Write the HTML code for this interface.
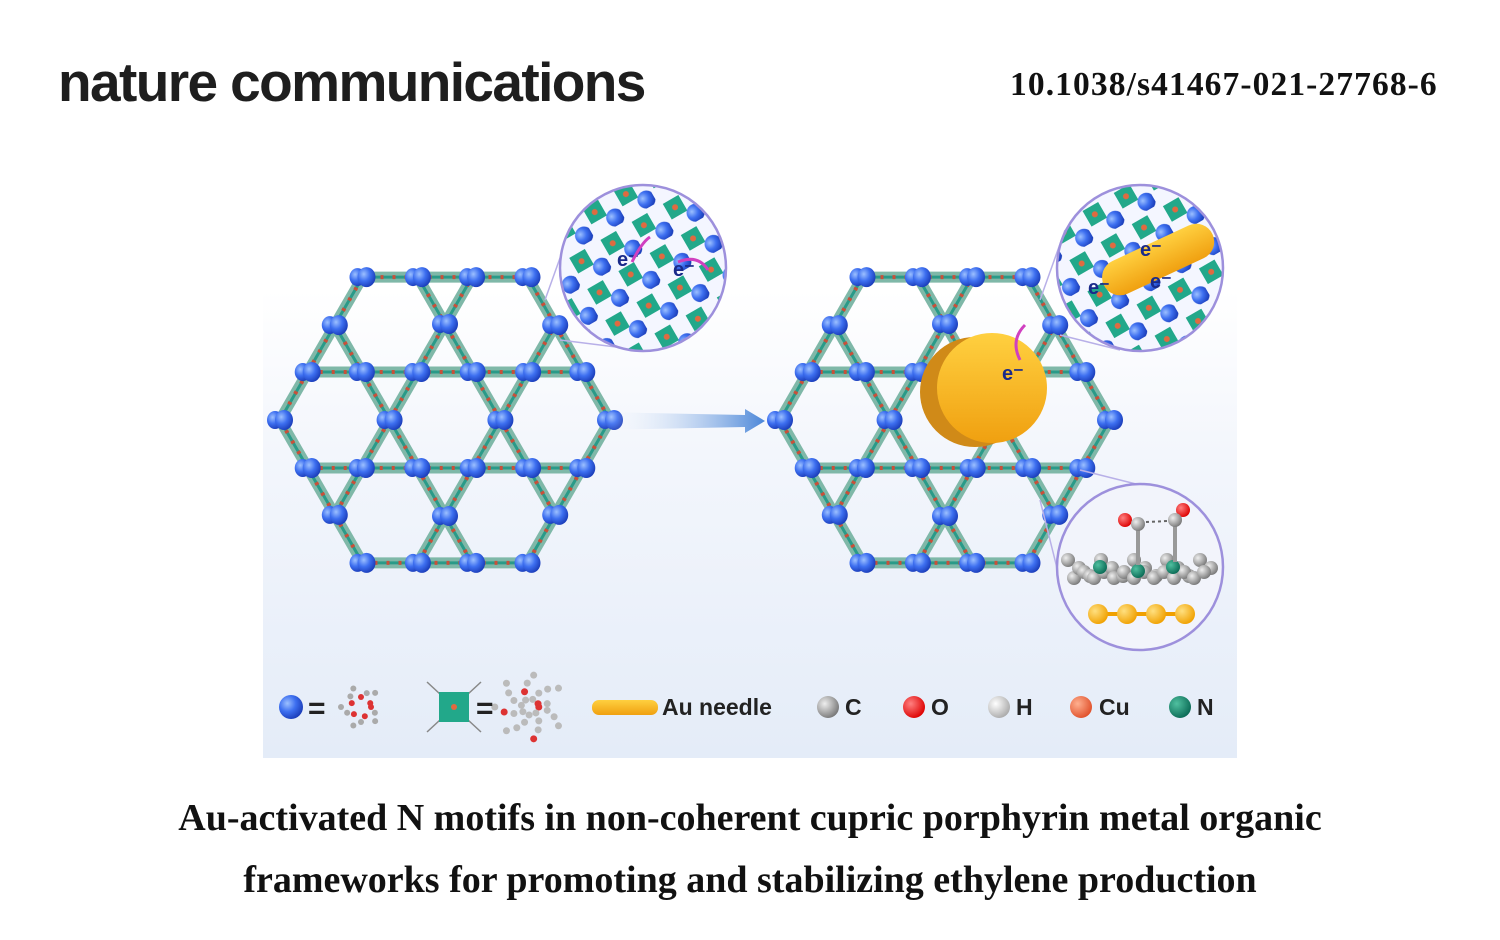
<!DOCTYPE html>
<html><head><meta charset="utf-8">
<style>
html,body{margin:0;padding:0;background:#fff;}
body{width:1500px;height:940px;position:relative;overflow:hidden;font-family:"Liberation Sans",sans-serif;}
.nc{position:absolute;left:58px;top:50px;font-size:55px;font-weight:bold;letter-spacing:-1.6px;color:#1e1e1e;}
.doi{position:absolute;left:1010px;top:66px;font-family:"Liberation Serif",serif;font-weight:bold;font-size:33.5px;letter-spacing:1.1px;color:#111;}
.cap{position:absolute;left:0;width:1500px;text-align:center;font-family:"Liberation Serif",serif;font-weight:bold;font-size:38px;color:#111;}
svg{position:absolute;left:0;top:0;}
</style></head><body>
<div class="nc">nature communications</div>
<div class="doi">10.1038/s41467-021-27768-6</div>
<svg id="s" width="1500" height="940" viewBox="0 0 1500 940">
<defs>
<linearGradient id="bg" x1="0" y1="0" x2="0" y2="1">
<stop offset="0" stop-color="#ffffff"/><stop offset="0.35" stop-color="#f3f6fc"/><stop offset="1" stop-color="#e4ecf8"/></linearGradient>
<radialGradient id="ball" cx="0.35" cy="0.35" r="0.7"><stop offset="0" stop-color="#9cc0ff"/><stop offset="0.5" stop-color="#3d6ff0"/><stop offset="1" stop-color="#1a3cb8"/></radialGradient>
<radialGradient id="gb" cx="0.35" cy="0.35" r="0.7"><stop offset="0" stop-color="#eee"/><stop offset="1" stop-color="#777"/></radialGradient>
<radialGradient id="rb" cx="0.35" cy="0.35" r="0.7"><stop offset="0" stop-color="#ff8080"/><stop offset="1" stop-color="#d00"/></radialGradient>
<radialGradient id="wb" cx="0.35" cy="0.35" r="0.7"><stop offset="0" stop-color="#fff"/><stop offset="1" stop-color="#aaa"/></radialGradient>
<radialGradient id="cb" cx="0.35" cy="0.35" r="0.7"><stop offset="0" stop-color="#ffb090"/><stop offset="1" stop-color="#e0502a"/></radialGradient>
<radialGradient id="nb" cx="0.35" cy="0.35" r="0.7"><stop offset="0" stop-color="#50c0a0"/><stop offset="1" stop-color="#0a6a55"/></radialGradient>
<radialGradient id="yb" cx="0.35" cy="0.35" r="0.7"><stop offset="0" stop-color="#ffe080"/><stop offset="1" stop-color="#f0a000"/></radialGradient>
<linearGradient id="arr" x1="0" x2="1"><stop offset="0" stop-color="#ffffff" stop-opacity="0"/><stop offset="1" stop-color="#4a86d8"/></linearGradient>
<linearGradient id="au" x1="0" x2="0" y1="0" y2="1"><stop offset="0" stop-color="#ffd040"/><stop offset="1" stop-color="#f0a010"/></linearGradient>
<pattern id="pt" width="36" height="36" patternUnits="userSpaceOnUse" patternTransform="rotate(-30)">
<rect width="36" height="36" fill="#f4f6ff"/><rect x="4" y="4" width="18" height="18" fill="#22a88a"/><circle cx="13" cy="13" r="3" fill="#e06a40"/><circle cx="28" cy="28" r="9" fill="url(#ball)"/></pattern>
</defs>
<rect x="263" y="290" width="974" height="468" fill="url(#bg)"/>
<g id="fw"></g>
<polygon points="600,412 745,415 745,409 765,421 745,433 745,427 600,430" fill="url(#arr)"/>
<g stroke="#b8b0e8" stroke-width="1.5" fill="none">
<line x1="545" y1="300" x2="570" y2="230"/><line x1="560" y1="340" x2="640" y2="350"/>
<line x1="1040" y1="300" x2="1065" y2="230"/><line x1="1060" y1="335" x2="1120" y2="350"/>
<line x1="1080" y1="470" x2="1140" y2="485"/><line x1="1040" y1="500" x2="1065" y2="600"/>
</g>
<circle cx="643" cy="268" r="83" fill="url(#pt)" stroke="#9d90dc" stroke-width="2.5"/>
<circle cx="1140" cy="268" r="83" fill="url(#pt)" stroke="#9d90dc" stroke-width="2.5"/>
<rect x="1100" y="250" width="120" height="36" rx="18" fill="url(#au)" transform="rotate(-25 1140 268)"/>
<g font-weight="bold" font-size="20" fill="#1a2a8a">
<text x="617" y="266">e⁻</text><text x="673" y="276">e⁻</text>
<text x="1140" y="256">e⁻</text><text x="1088" y="294">e⁻</text><text x="1150" y="288">e⁻</text></g>
<path d="M632 262 q10 -20 18 -25" stroke="#d040c0" stroke-width="3" fill="none"/>
<path d="M678 262 q20 -8 30 8" stroke="#d040c0" stroke-width="3" fill="none"/>
<circle cx="1140" cy="567" r="83" fill="#f2f4fb" stroke="#9d90dc" stroke-width="2.5"/>
<g id="mol"></g>
<ellipse cx="975" cy="392" rx="55" ry="55" fill="#d08a18"/>
<ellipse cx="992" cy="388" rx="55" ry="55" fill="url(#au)"/>
<text x="1002" y="380" font-weight="bold" font-size="20" fill="#1a2a8a">e⁻</text>
<path d="M1020 360 q-10 -20 5 -35" stroke="#d040c0" stroke-width="3" fill="none"/>
<circle cx="291" cy="707" r="12" fill="url(#ball)"/>
<text x="308" y="718" font-size="30" font-weight="bold" fill="#222">=</text>
<g id="leg1"></g>
<g stroke="#888" stroke-width="1.5"><line x1="427" y1="682" x2="481" y2="732"/><line x1="481" y1="682" x2="427" y2="732"/></g>
<rect x="439" y="692" width="30" height="30" fill="#22a88a"/><circle cx="454" cy="707" r="3" fill="#e06a40"/>
<text x="476" y="718" font-size="30" font-weight="bold" fill="#222">=</text>
<rect x="592" y="700" width="66" height="15" rx="7" fill="url(#au)"/>
<g font-size="23" font-weight="bold" fill="#222">
<text x="662" y="715">Au needle</text>
<circle cx="828" cy="707" r="11" fill="url(#gb)"/><text x="845" y="715">C</text>
<circle cx="914" cy="707" r="11" fill="url(#rb)"/><text x="931" y="715">O</text>
<circle cx="999" cy="707" r="11" fill="url(#wb)"/><text x="1016" y="715">H</text>
<circle cx="1081" cy="707" r="11" fill="url(#cb)"/><text x="1099" y="715">Cu</text>
<circle cx="1180" cy="707" r="11" fill="url(#nb)"/><text x="1197" y="715">N</text>
</g>
</svg>
<div class="cap" style="top:796px">Au-activated N motifs in non-coherent cupric porphyrin metal organic</div>
<div class="cap" style="top:858px">frameworks for promoting and stabilizing ethylene production</div>
<script>
var NS="http://www.w3.org/2000/svg";
function el(p,t,a){var e=document.createElementNS(NS,t);for(var k in a)e.setAttribute(k,a[k]);p.appendChild(e);return e;}
var fw=document.getElementById('fw');
function frame(cx,cy){
 var R=165,V=[];
 for(var i=0;i<6;i++){var a=i*Math.PI/3;V.push([cx+R*Math.cos(a),cy-R*Math.sin(a)]);}
 var segs=[];
 for(var i=0;i<6;i++)segs.push([V[i],V[(i+1)%6]]);
 var d=48;
 [0,60,120].forEach(function(deg){
  var a=deg*Math.PI/180,ux=Math.cos(a),uy=-Math.sin(a),nx=-uy,ny=ux;
  [-d,d].forEach(function(o){
   var px=cx+nx*o,py=cy+ny*o,ts=[];
   for(var i=0;i<6;i++){var A=V[i],B=V[(i+1)%6];var ex=B[0]-A[0],ey=B[1]-A[1];
    var den=ux*ey-uy*ex;if(Math.abs(den)<1e-9)continue;
    var t=((A[0]-px)*ey-(A[1]-py)*ex)/den,s=((A[0]-px)*uy-(A[1]-py)*ux)/den;
    if(s>=-1e-6&&s<=1+1e-6)ts.push(t);}
   ts.sort(function(a,b){return a-b});
   segs.push([[px+ux*ts[0],py+uy*ts[0]],[px+ux*ts[ts.length-1],py+uy*ts[ts.length-1]]]);
  });
 });
 segs.forEach(function(s){
  el(fw,'line',{x1:s[0][0],y1:s[0][1],x2:s[1][0],y2:s[1][1],stroke:'#7fb8a8','stroke-width':11});
  el(fw,'line',{x1:s[0][0],y1:s[0][1],x2:s[1][0],y2:s[1][1],stroke:'#2a9a88','stroke-width':3});
  el(fw,'line',{x1:s[0][0],y1:s[0][1],x2:s[1][0],y2:s[1][1],stroke:'#c8503a','stroke-width':4,'stroke-dasharray':'3 9'});
 });
 var pts=[];
 function add(p){for(var i=0;i<pts.length;i++)if(Math.hypot(pts[i][0]-p[0],pts[i][1]-p[1])<6)return;pts.push(p);}
 for(var i=0;i<segs.length;i++)for(var j=i+1;j<segs.length;j++){
  var a=segs[i],b=segs[j];var x1=a[0][0],y1=a[0][1],x2=a[1][0],y2=a[1][1],x3=b[0][0],y3=b[0][1],x4=b[1][0],y4=b[1][1];
  var den=(x1-x2)*(y3-y4)-(y1-y2)*(x3-x4);if(Math.abs(den)<1e-9)continue;
  var t=((x1-x3)*(y3-y4)-(y1-y3)*(x3-x4))/den,u=-((x1-x2)*(y1-y3)-(y1-y2)*(x1-x3))/den;
  if(t>-0.01&&t<1.01&&u>-0.01&&u<1.01)add([x1+t*(x2-x1),y1+t*(y2-y1)]);}
 pts.forEach(function(p){
  el(fw,'ellipse',{cx:p[0]-5,cy:p[1],rx:8,ry:9,fill:'url(#ball)'});
  el(fw,'ellipse',{cx:p[0]+4,cy:p[1],rx:9,ry:10,fill:'url(#ball)'});});
}
frame(445,420);frame(945,420);
var m=document.getElementById('mol');
for(var i=0;i<14;i++){el(m,'circle',{cx:1068+i*11,cy:560+(i%3)*8,r:7,fill:'url(#gb)'});el(m,'circle',{cx:1074+i*10,cy:578-(i%2)*6,r:7,fill:'url(#gb)'});}
[[1100,567],[1138,571],[1173,567]].forEach(function(p){el(m,'circle',{cx:p[0],cy:p[1],r:7,fill:'url(#nb)'});});
el(m,'line',{x1:1138,y1:525,x2:1138,y2:565,stroke:'#999','stroke-width':4});
el(m,'line',{x1:1175,y1:520,x2:1175,y2:562,stroke:'#999','stroke-width':4});
el(m,'circle',{cx:1125,cy:520,r:7,fill:'url(#rb)'});el(m,'circle',{cx:1138,cy:524,r:7,fill:'url(#gb)'});
el(m,'circle',{cx:1183,cy:510,r:7,fill:'url(#rb)'});el(m,'circle',{cx:1175,cy:520,r:7,fill:'url(#gb)'});
el(m,'line',{x1:1146,y1:522,x2:1168,y2:521,stroke:'#666','stroke-width':2,'stroke-dasharray':'3 3'});
el(m,'line',{x1:1090,y1:614,x2:1190,y2:614,stroke:'#f0a000','stroke-width':4});
for(var i=0;i<4;i++)el(m,'circle',{cx:1098+i*29,cy:614,r:10,fill:'url(#yb)'});
var l=document.getElementById('leg1');
for(var i=0;i<16;i++){var a=i/16*6.283;el(l,'circle',{cx:361+Math.cos(a)*(10+(i%3)*5),cy:707+Math.sin(a)*(10+(i%3)*5),r:3,fill:i%3?'#aaa':'#d33'});}
for(var i=0;i<30;i++){var a=i/30*6.283,r=8+(i%4)*8;el(l,'circle',{cx:530+Math.cos(a)*r*1.1,cy:707+Math.sin(a)*r,r:3.5,fill:i%7?'#bbb':'#d33'});}
</script>
</body></html>
